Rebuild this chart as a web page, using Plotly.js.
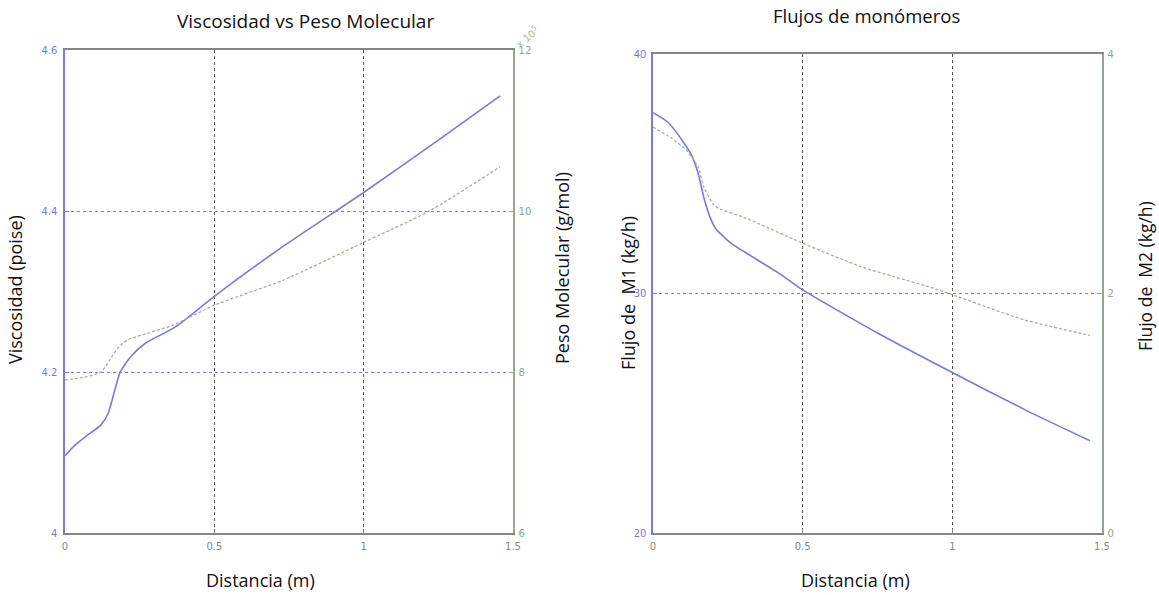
<!DOCTYPE html>
<html>
<head>
<meta charset="utf-8">
<script src="https://cdn.plot.ly/plotly-3.0.1.min.js"></script>
<style>html,body{margin:0;padding:0;background:#fff;}#chart{width:1159px;height:595px;}</style>
</head>
<body>
<div id="chart"></div>
<script>
// ---- Left chart: Viscosidad vs Peso Molecular ----
const distVisc = [0, 0.03, 0.07, 0.12, 0.145, 0.167, 0.185, 0.22, 0.27, 0.37, 0.5, 0.73, 1.0, 1.25, 1.457];
const viscosidad = [4.096, 4.108, 4.12, 4.134, 4.149, 4.178, 4.2, 4.219, 4.236, 4.256, 4.294, 4.356, 4.423, 4.488, 4.543];
const distPM = [0, 0.07, 0.12, 0.15, 0.175, 0.21, 0.275, 0.36, 0.5, 0.73, 1.0, 1.22, 1.457];
const pesoMolecular = [7.90, 7.94, 8.00, 8.15, 8.29, 8.40, 8.48, 8.58, 8.83, 9.14, 9.61, 10.0, 10.55]; // x 10^5

// ---- Right chart: Flujos de monómeros ----
const distM1 = [0, 0.05, 0.1, 0.13, 0.15, 0.17, 0.19, 0.21, 0.26, 0.31, 0.42, 0.5, 0.75, 1.0, 1.25, 1.46];
const flujoM1 = [37.55, 37.15, 36.35, 35.75, 35.05, 34.0, 33.2, 32.7, 32.1, 31.7, 30.85, 30.15, 28.35, 26.7, 25.1, 23.85];
const distM2 = [0, 0.06, 0.11, 0.15, 0.17, 0.2, 0.22, 0.31, 0.5, 0.7, 0.93, 1.0, 1.24, 1.46];
const flujoM2 = [3.39, 3.30, 3.20, 3.06, 2.89, 2.75, 2.71, 2.63, 2.42, 2.22, 2.05, 1.99, 1.78, 1.65];

const xTicks = [0, 0.5, 1, 1.5];
const xTickText = ['0', '0.5', '1', '1.5'];
const viscTicks = [4, 4.2, 4.4, 4.6];
const viscTickText = ['4', '4.2', '4.4', '4.6'];
const pmTicks = [6, 8, 10, 12];
const pmTickText = ['6', '8', '10', '12'];
const m1Ticks = [20, 30, 40];
const m1TickText = ['20', '30', '40'];
const m2Ticks = [0, 2, 4];
const m2TickText = ['0', '2', '4'];

const BLUE = '#7a7ade';
const GREEN = '#a0b398';
const AXGRAY = '#868686';
const SPINE_R = '#97a592';
const tickFont = (c) => ({family: 'DejaVu Sans', size: 10, color: c});
const labelFont = (s) => ({family: 'Open Sans', size: s, color: '#111'});

const W = 1159, H = 595;
const px = v => v / W;
const py = v => 1 - v / H;

const traces = [
  {x: distVisc, y: viscosidad, xaxis: 'x', yaxis: 'y', mode: 'lines', line: {color: BLUE, width: 1.6, shape: 'spline', smoothing: 0.6}, name: 'Viscosidad'},
  {x: distPM, y: pesoMolecular, xaxis: 'x', yaxis: 'y2', mode: 'lines', line: {color: GREEN, width: 1.3, dash: '3px,2px', shape: 'spline', smoothing: 0.6}, name: 'Peso Molecular'},
  {x: distM1, y: flujoM1, xaxis: 'x2', yaxis: 'y3', mode: 'lines', line: {color: BLUE, width: 1.6, shape: 'spline', smoothing: 0.6}, name: 'M1'},
  {x: distM2, y: flujoM2, xaxis: 'x2', yaxis: 'y4', mode: 'lines', line: {color: GREEN, width: 1.3, dash: '3px,2px', shape: 'spline', smoothing: 0.6}, name: 'M2'}
];

const xCommon = {
  range: [0, 1.5], tickvals: xTicks, ticktext: xTickText, tickfont: tickFont('#8a8a8a'),
  ticklabelstandoff: 3,
  showgrid: true, gridcolor: '#555555', griddash: 'dot', gridwidth: 1,
  showline: true, linecolor: AXGRAY, linewidth: 1.6, mirror: true,
  ticks: 'inside', ticklen: 4, tickcolor: AXGRAY, zeroline: false, fixedrange: true
};

const layout = {
  width: W, height: H,
  margin: {l: 0, r: 0, t: 0, b: 0},
  paper_bgcolor: '#ffffff', plot_bgcolor: '#ffffff',
  showlegend: false,
  xaxis: Object.assign({}, xCommon, {domain: [px(65), px(513)], anchor: 'y'}),
  yaxis: {
    domain: [py(533), py(50)], anchor: 'x', range: [4, 4.6],
    tickvals: viscTicks, ticktext: viscTickText, tickfont: tickFont(BLUE), ticklabelstandoff: 4,
    showgrid: true, gridcolor: '#7a7ae0', griddash: 'dot', gridwidth: 1,
    showline: true, linecolor: BLUE, linewidth: 1.6,
    ticks: 'inside', ticklen: 4, tickcolor: BLUE, zeroline: false, fixedrange: true
  },
  yaxis2: {
    overlaying: 'y', side: 'right', anchor: 'x', range: [6, 12],
    tickvals: pmTicks, ticktext: pmTickText, tickfont: tickFont('#92a38b'), ticklabelstandoff: 2,
    showgrid: false, showline: true, linecolor: SPINE_R, linewidth: 1.6,
    ticks: 'inside', ticklen: 4, tickcolor: SPINE_R, zeroline: false, fixedrange: true
  },
  xaxis2: Object.assign({}, xCommon, {domain: [px(653), px(1102)], anchor: 'y3'}),
  yaxis3: {
    domain: [py(533), py(54)], anchor: 'x2', range: [20, 40],
    tickvals: m1Ticks, ticktext: m1TickText, tickfont: tickFont(BLUE), ticklabelstandoff: 3,
    showgrid: true, gridcolor: '#7a7ae0', griddash: 'dot', gridwidth: 1,
    showline: true, linecolor: BLUE, linewidth: 1.6,
    ticks: 'inside', ticklen: 4, tickcolor: BLUE, zeroline: false, fixedrange: true
  },
  yaxis4: {
    overlaying: 'y3', side: 'right', anchor: 'x2', range: [0, 4],
    tickvals: m2Ticks, ticktext: m2TickText, tickfont: tickFont('#92a38b'), ticklabelstandoff: 2,
    showgrid: false, showline: true, linecolor: SPINE_R, linewidth: 1.6,
    ticks: 'inside', ticklen: 4, tickcolor: SPINE_R, zeroline: false, fixedrange: true
  },
  annotations: [
    {text: 'Viscosidad vs Peso Molecular', x: px(305), y: py(21), xref: 'paper', yref: 'paper', xanchor: 'center', yanchor: 'middle', showarrow: false, font: labelFont(19)},
    {text: 'Flujos de monómeros', x: px(866), y: py(15), xref: 'paper', yref: 'paper', xanchor: 'center', yanchor: 'middle', showarrow: false, font: labelFont(18.5)},
    {text: 'Distancia (m)', x: px(260), y: py(580), xref: 'paper', yref: 'paper', xanchor: 'center', yanchor: 'middle', showarrow: false, font: labelFont(18)},
    {text: 'Distancia (m)', x: px(855), y: py(580), xref: 'paper', yref: 'paper', xanchor: 'center', yanchor: 'middle', showarrow: false, font: labelFont(18)},
    {text: 'Viscosidad (poise)', x: px(15), y: py(290), xref: 'paper', yref: 'paper', xanchor: 'center', yanchor: 'middle', textangle: -90, showarrow: false, font: labelFont(18)},
    {text: 'Peso Molecular (g/mol)', x: px(562), y: py(268), xref: 'paper', yref: 'paper', xanchor: 'center', yanchor: 'middle', textangle: -90, showarrow: false, font: labelFont(18)},
    {text: 'Flujo de  M1 (kg/h)', x: px(628), y: py(293), xref: 'paper', yref: 'paper', xanchor: 'center', yanchor: 'middle', textangle: -90, showarrow: false, font: labelFont(18)},
    {text: 'Flujo de  M2 (kg/h)', x: px(1145), y: py(276), xref: 'paper', yref: 'paper', xanchor: 'center', yanchor: 'middle', textangle: -90, showarrow: false, font: labelFont(17.5)},
    {text: 'x 10<sup>5</sup>', x: px(527), y: py(37), xref: 'paper', yref: 'paper', xanchor: 'center', yanchor: 'middle', textangle: -40, showarrow: false, font: {family: 'DejaVu Sans', size: 10, color: '#a9b8a1'}}
  ]
};

Plotly.newPlot('chart', traces, layout, {staticPlot: true, displayModeBar: false});
</script>
</body>
</html>
